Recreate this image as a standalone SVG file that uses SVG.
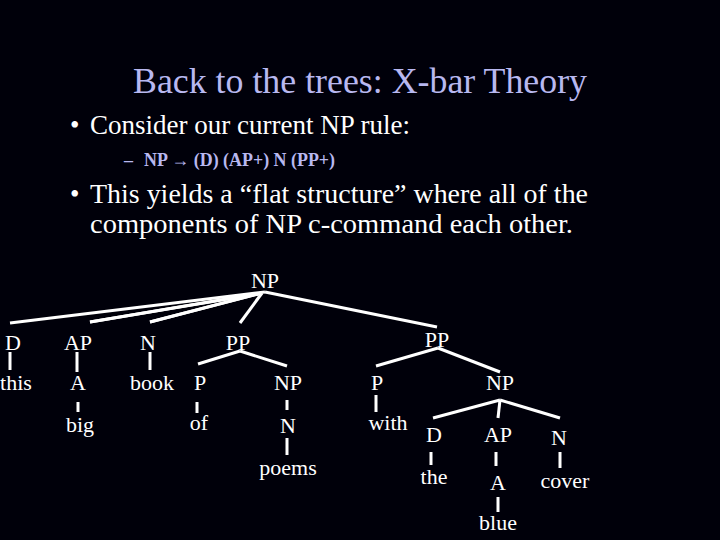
<svg xmlns="http://www.w3.org/2000/svg" width="720" height="540" viewBox="0 0 720 540">
<style>
text{font-family:"Liberation Serif",serif;fill:#fff}
.t{fill:#b8b8f0;font-size:36px}
.b{font-size:27px}
.s{fill:#b8b8f0;font-size:18px;font-weight:bold}
.n{font-size:22px;text-anchor:middle}
line{stroke:#fff;stroke-width:3}
</style>
<rect width="720" height="540" fill="#00000a"/>
<text class="t" x="360" y="93" text-anchor="middle" textLength="454" lengthAdjust="spacingAndGlyphs">Back to the trees: X-bar Theory</text>
<text class="b" x="70" y="134">•</text><text class="b" x="90" y="134" textLength="320" lengthAdjust="spacingAndGlyphs">Consider our current NP rule:</text>
<text class="s" x="124" y="166" font-weight="normal">–</text><text class="s" x="144" y="166" textLength="191" lengthAdjust="spacingAndGlyphs">NP → (D) (AP+) N (PP+)</text>
<text class="b" x="70" y="203">•</text><text class="b" x="90" y="203" textLength="498" lengthAdjust="spacingAndGlyphs">This yields a “flat structure” where all of the</text>
<text class="b" x="90" y="233" textLength="483" lengthAdjust="spacingAndGlyphs">components of  NP c-command each other.</text>
<g id="connectors">
<line x1="265" y1="292" x2="10" y2="323"/>
<line x1="258" y1="294" x2="90" y2="322"/>
<line x1="262" y1="293" x2="90" y2="322"/>
<line x1="258" y1="294" x2="150" y2="322"/>
<line x1="262" y1="293" x2="150" y2="322"/>
<line x1="262" y1="293" x2="240" y2="323"/>
<line x1="265" y1="292" x2="437" y2="327"/>
<line x1="10" y1="352" x2="10" y2="370"/>
<line x1="77" y1="352" x2="77" y2="372"/>
<line x1="78" y1="402" x2="78" y2="412"/>
<line x1="150" y1="352" x2="150" y2="370"/>
<line x1="240" y1="351" x2="198" y2="364"/>
<line x1="240" y1="351" x2="287" y2="366"/>
<line x1="197" y1="402" x2="197" y2="413"/>
<line x1="287" y1="400" x2="287" y2="410"/>
<line x1="287" y1="438" x2="287" y2="455"/>
<line x1="438" y1="348" x2="376" y2="366"/>
<line x1="438" y1="348" x2="500" y2="372"/>
<line x1="376" y1="395" x2="376" y2="412"/>
<line x1="500" y1="400" x2="433" y2="418"/>
<line x1="500" y1="400" x2="498" y2="418"/>
<line x1="500" y1="400" x2="560" y2="418"/>
<line x1="431" y1="452" x2="431" y2="465"/>
<line x1="496" y1="452" x2="496" y2="466"/>
<line x1="498" y1="497" x2="498" y2="512"/>
<line x1="560" y1="452" x2="560" y2="468"/>
</g>
<g id="nodes">
<text class="n" x="265" y="288">NP</text>
<text class="n" x="13" y="350">D</text>
<text class="n" x="78" y="350">AP</text>
<text class="n" x="148" y="350">N</text>
<text class="n" x="238" y="350">PP</text>
<text class="n" x="437" y="347">PP</text>
<text class="n" x="16" y="390">this</text>
<text class="n" x="78" y="390">A</text>
<text class="n" x="152" y="390">book</text>
<text class="n" x="200" y="390">P</text>
<text class="n" x="288" y="390">NP</text>
<text class="n" x="377" y="390">P</text>
<text class="n" x="500" y="390">NP</text>
<text class="n" x="80" y="432">big</text>
<text class="n" x="199" y="430">of</text>
<text class="n" x="288" y="433">N</text>
<text class="n" x="388" y="430">with</text>
<text class="n" x="434" y="442">D</text>
<text class="n" x="498" y="442">AP</text>
<text class="n" x="559" y="445">N</text>
<text class="n" x="288" y="475">poems</text>
<text class="n" x="434" y="484">the</text>
<text class="n" x="498" y="490">A</text>
<text class="n" x="565" y="488">cover</text>
<text class="n" x="498" y="530">blue</text>
</g>
</svg>
